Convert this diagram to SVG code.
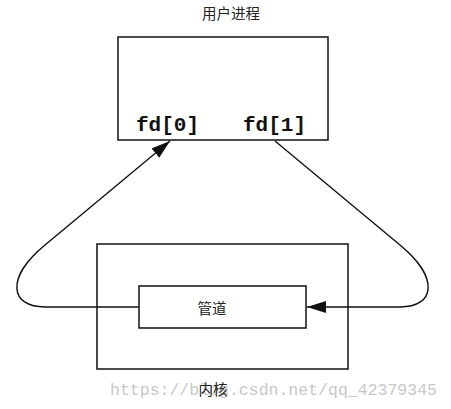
<svg xmlns="http://www.w3.org/2000/svg" width="451" height="409" viewBox="0 0 451 409">
<style>
.box{fill:none;stroke:#111;stroke-width:1.5}
.edge{fill:none;stroke:#111;stroke-width:1.4}
.cjk{font-family:"Noto Sans CJK SC","Noto Sans",sans-serif;font-size:14.5px;fill:#222;text-anchor:middle}
.fd{font-family:"Liberation Mono","DejaVu Sans Mono",monospace;font-weight:bold;font-size:21px;fill:#111}
.wm{font-family:"Liberation Mono","DejaVu Sans Mono",monospace;font-size:16.5px;fill:#c8c8c8}
</style>
<defs>
<marker id="arr" markerUnits="userSpaceOnUse" markerWidth="20" markerHeight="14" refX="19" refY="6" orient="auto">
<path d="M0,0 L19,6 L0,12 Z" fill="#111"/>
</marker>
</defs>
<rect width="451" height="409" fill="#fff"/>
<text class="wm" x="110" y="395" textLength="327" lengthAdjust="spacingAndGlyphs">https://blog.csdn.net/qq_42379345</text>
<g id="user-process">
<rect class="box" x="118" y="37" width="210" height="103"/>
<text class="cjk" x="231" y="19">用户进程</text>
<text class="fd" x="136" y="131">fd[0]</text>
<text class="fd" x="243" y="131">fd[1]</text>
</g>
<g id="kernel">
<rect class="box" x="97" y="244" width="251" height="125"/>
<text class="cjk" x="213" y="395">内核</text>
</g>
<g id="pipe">
<rect class="box" x="139" y="286" width="167" height="42" fill="#fff"/>
<text class="cjk" x="212" y="314">管道</text>
</g>
<g id="connectors">
<path class="edge" d="M139,307 H45 C10,307 5,278 45,245 L170,141" marker-end="url(#arr)"/>
<path class="edge" d="M275,141 L400,245 C440,278 435,307 400,307 H307" marker-end="url(#arr)"/>
</g>
</svg>
